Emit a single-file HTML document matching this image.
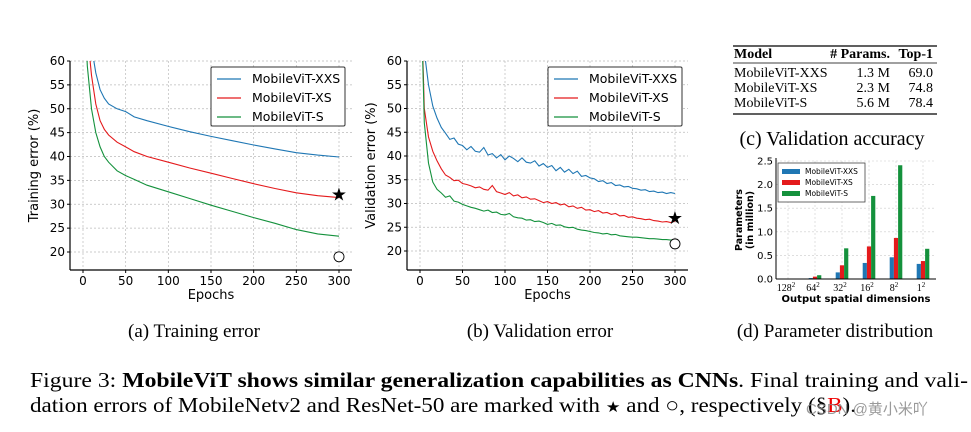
<!DOCTYPE html>
<html><head><meta charset="utf-8"><style>
html,body{margin:0;padding:0;background:#fff;}
svg{display:block;}
.sans{font-family:"DejaVu Sans","Liberation Sans",sans-serif;}
.serif{font-family:"Liberation Serif",serif;}
</style></head><body>
<svg id="fig" width="971" height="432" viewBox="0 0 971 432" xmlns="http://www.w3.org/2000/svg">
<g id="pa"></g>
<g id="pb"></g>
<g id="pd"></g>
<g class="serif" font-size="14">
<line x1="733" y1="46" x2="937" y2="46" stroke="#000" stroke-width="1.2"/>
<text x="734" y="58" font-weight="bold">Model</text>
<text x="890" y="58" font-weight="bold" text-anchor="end"># Params.</text>
<text x="933" y="58" font-weight="bold" text-anchor="end">Top-1</text>
<line x1="733" y1="63" x2="937" y2="63" stroke="#000" stroke-width="0.8"/>
<text x="734" y="77">MobileViT-XXS</text><text x="890" y="77" text-anchor="end">1.3 M</text><text x="933" y="77" text-anchor="end">69.0</text>
<text x="734" y="92">MobileViT-XS</text><text x="890" y="92" text-anchor="end">2.3 M</text><text x="933" y="92" text-anchor="end">74.8</text>
<text x="734" y="107">MobileViT-S</text><text x="890" y="107" text-anchor="end">5.6 M</text><text x="933" y="107" text-anchor="end">78.4</text>
<line x1="733" y1="114" x2="937" y2="114" stroke="#000" stroke-width="1.2"/>
<text x="832" y="145" font-size="20" text-anchor="middle">(c) Validation accuracy</text>
</g>
<g class="serif" font-size="19" text-anchor="middle">
<text x="194" y="337">(a) Training error</text>
<text x="540" y="337">(b) Validation error</text>
<text x="835" y="337">(d) Parameter distribution</text>
</g>
<g class="serif" font-size="21">
<text x="30" y="387" textLength="938" lengthAdjust="spacingAndGlyphs">Figure 3: <tspan font-weight="bold">MobileViT shows similar generalization capabilities as CNNs</tspan>. Final training and vali-</text>
<text x="30" y="412" textLength="826" lengthAdjust="spacingAndGlyphs">dation errors of MobileNetv2 and ResNet-50 are marked with <tspan font-size="15">★</tspan> and ○, respectively (§<tspan fill="#e00">B</tspan>).</text>
</g>
<text x="806" y="414" font-size="15" fill="#888" fill-opacity="0.85" font-family="'Liberation Sans','Noto Sans CJK SC',sans-serif">CSDN @黄小米吖</text>
</svg>
<script>
// ---- training error data ----
const trainEpochs = [1,5,10,15,20,25,30,40,50,60,75,100,125,150,175,200,225,250,275,300];
const trainXXS = [75,70,63,57.5,54,52.2,51,50,49.4,48.3,47.5,46.3,45.2,44.2,43.3,42.4,41.6,40.8,40.3,39.9];
const trainXS  = [75,66,57,51,47.5,45.7,44.5,43,42,41,40,38.8,37.6,36.5,35.4,34.3,33.3,32.4,31.8,31.4];
const trainS   = [75,59,50,45,42,40,38.8,37,36,35.2,34,32.6,31.2,29.8,28.5,27.2,26,24.7,23.8,23.3];
const trainStar = [300,32];
const trainCircle = [300,19];
// ---- validation error data ----
const valEpochs = [1,5,10,15,20,25,30,35,40,45,50,55,60,65,70,75,80,85,90,95,100,105,110,115,120,125,130,135,140,145,150,155,160,165,170,175,180,185,190,195,200,205,210,215,220,225,230,235,240,245,250,255,260,265,270,275,280,285,290,295,300];
const valXXS = [80,62,55,50.5,48,46,44.8,43.5,43.8,42.5,42.2,41.3,42,41,40.8,41.8,40.2,40.5,39.6,40.3,39.2,40,39.5,38.8,39.6,38.7,38.5,39,37.9,38.4,37.6,38,36.9,37.6,36.6,37.2,36.3,36.8,35.7,35.9,35.4,35.2,34.6,34.8,34.2,34.4,33.8,33.9,33.5,33.6,33.2,33.1,32.8,32.9,32.5,32.6,32.3,32.4,32.1,32.3,32.1];
const valXS = [75,50,44,41,39,37.3,36,35.5,34.8,34.9,34.2,34,33.7,33.3,33.5,33,32.8,33.8,32.5,32.2,31.9,32.3,31.6,31.8,31.2,31.4,30.9,31,30.6,30.2,30.4,30,30.2,29.7,29.9,29.3,29.5,29,29.2,28.6,28.7,28.3,28.5,28,28.1,27.7,27.9,27.4,27.5,27.1,27.2,26.9,26.8,26.6,26.7,26.4,26.3,26.1,26.2,26,26.3];
const valS = [75,47,38.5,34.5,33,32.2,31.3,31.6,30.5,30.3,29.8,29.5,29.2,29,28.7,28.4,28.6,28.1,28.2,27.7,27.6,27.9,27.2,27,26.9,26.5,26.6,26.2,26.3,26,25.6,25.8,25.4,25.5,25.1,24.9,25,24.6,24.4,24.3,24.1,23.9,23.8,23.6,23.7,23.4,23.5,23.2,23.1,23,22.9,22.9,22.8,22.7,22.6,22.6,22.5,22.4,22.4,22.3,22.4];
const valStar = [300,27];
const valCircle = [300,21.5];
// ---- common ticks ----
const xTicks = [0,50,100,150,200,250,300];
const yTicks = [20,25,30,35,40,45,50,55,60];
const seriesNames = ["MobileViT-XXS","MobileViT-XS","MobileViT-S"];
const colors = ["#1f77b4","#e41a1c","#14913c"];
// ---- parameter distribution data ----
const barCats = ["128","64","32","16","8","1"];
const barXXS = [0,0.02,0.14,0.34,0.46,0.32];
const barXS  = [0,0.05,0.29,0.69,0.87,0.38];
const barS   = [0,0.08,0.65,1.76,2.41,0.64];
const barTicks = [0.0,0.5,1.0,1.5,2.0,2.5];

const NS="http://www.w3.org/2000/svg";
function mk(parent,tag,attrs,text){const e=document.createElementNS(NS,tag);for(const k in attrs)e.setAttribute(k,attrs[k]);if(text!==undefined)e.textContent=text;parent.appendChild(e);return e;}

function lineChart(g,opt){
  const sx=v=>opt.x0+(v-0)*(opt.x300-opt.x0)/300;
  const sy=v=>opt.y20+(v-20)*(opt.y60-opt.y20)/40;
  const cid='clip'+opt.id;
  const cp=mk(g,'clipPath',{id:cid});mk(cp,'rect',{x:opt.left,y:opt.y60,width:opt.right-opt.left,height:opt.bottom-opt.y60});
  xTicks.forEach(t=>{
    mk(g,'line',{x1:sx(t),x2:sx(t),y1:opt.y60,y2:opt.bottom,stroke:'#bbb','stroke-width':0.7,'stroke-dasharray':'2,2'});
    mk(g,'line',{x1:sx(t),x2:sx(t),y1:opt.bottom,y2:opt.bottom+3,stroke:'#000'});
    const l=mk(g,'text',{x:sx(t),y:opt.bottom+15,'font-size':12,'text-anchor':'middle',class:'sans'},String(t));
    
    
  });
  yTicks.forEach(t=>{
    mk(g,'line',{x1:opt.left,x2:opt.right,y1:sy(t),y2:sy(t),stroke:'#bbb','stroke-width':0.7,'stroke-dasharray':'2,2'});
    mk(g,'line',{x1:opt.left-3,x2:opt.left,y1:sy(t),y2:sy(t),stroke:'#000'});
    const l=mk(g,'text',{x:opt.left-5,y:sy(t)+4,'font-size':12,'text-anchor':'end',class:'sans'},String(t));
    
    
  });
  mk(g,'line',{x1:opt.left,x2:opt.left,y1:opt.y60,y2:opt.bottom,stroke:'#000','stroke-width':1.2});
  mk(g,'line',{x1:opt.left,x2:opt.right,y1:opt.bottom,y2:opt.bottom,stroke:'#000','stroke-width':1.2});
  const xt=mk(g,'text',{x:(opt.x0+opt.x300)/2,y:opt.bottom+29,'font-size':13,'text-anchor':'middle',class:'sans'},'Epochs');
  
  
  const cy=(opt.y60+opt.bottom)/2, cx=opt.left-32;
  const yt=mk(g,'text',{x:cx,y:cy,'font-size':13,'text-anchor':'middle',class:'sans',transform:`rotate(-90 ${cx} ${cy})`},opt.ylabel);
  
  
  opt.series.forEach((s,i)=>{
    const d=opt.epochs.map((e,j)=>(j?'L':'M')+sx(e).toFixed(1)+','+sy(s[j]).toFixed(1)).join('');
    const p=mk(g,'path',{d:d,fill:'none',stroke:colors[i],'stroke-width':1.1,'clip-path':`url(#${cid})`});
    
    
  });
  const st=mk(g,'text',{x:sx(opt.star[0]),y:sy(opt.star[1])+6,'font-size':18,'text-anchor':'middle',fill:'#000',class:'sans'},'★');
  
  
  const ci=mk(g,'circle',{cx:sx(opt.circle[0]),cy:sy(opt.circle[1]),r:5,fill:'#fff',stroke:'#000','stroke-width':0.9});
  
  
  const lg=mk(g,'g',{});
  
  
  mk(lg,'rect',{x:opt.lx,y:67,width:134,height:59,fill:'#fff',stroke:'#333','stroke-width':1,rx:1.5});
  seriesNames.forEach((n,i)=>{
    const y=83+i*19;
    mk(lg,'line',{x1:opt.lx+6,x2:opt.lx+30,y1:y-4,y2:y-4,stroke:colors[i],'stroke-width':1.3});
    const t=mk(lg,'text',{x:opt.lx+41,y:y,'font-size':12.5,class:'sans'},n);
    
    
  });
}

lineChart(document.getElementById('pa'),{id:'a',x0:83,x300:339,left:70,right:352,y60:61,y20:252,bottom:270,ylabel:'Training error (%)',epochs:trainEpochs,series:[trainXXS,trainXS,trainS],star:trainStar,circle:trainCircle,lx:211});
lineChart(document.getElementById('pb'),{id:'b',x0:420,x300:675,left:407,right:688,y60:61,y20:251,bottom:270,ylabel:'Validation error (%)',epochs:valEpochs,series:[valXXS,valXS,valS],star:valStar,circle:valCircle,lx:548});

(function(){
  const g=document.getElementById('pd');
  const left=776,right=936,y0=279,y25=161;
  const sy=v=>y0+(y25-y0)*v/2.5;
  const cx=i=>788+i*27;
  const bw=4.2;
  barCats.forEach((c,i)=>{mk(g,'line',{x1:cx(i),x2:cx(i),y1:y25,y2:y0,stroke:'#ccc','stroke-width':0.6,'stroke-dasharray':'2,2'});});
  barTicks.forEach(t=>{
    mk(g,'line',{x1:left,x2:right,y1:sy(t),y2:sy(t),stroke:'#ccc','stroke-width':0.6,'stroke-dasharray':'2,2'});
    const l=mk(g,'text',{x:left-3,y:sy(t)+3.5,'font-size':10,'text-anchor':'end',class:'sans'},t.toFixed(1));
    
    
  });
  [barXXS,barXS,barS].forEach((s,k)=>{
    s.forEach((v,i)=>{
      const r=mk(g,'rect',{x:cx(i)+(k-1.5)*bw,y:sy(v),width:bw,height:y0-sy(v),fill:colors[k]});
      
      
    });
  });
  mk(g,'line',{x1:left,x2:left,y1:y25-3,y2:y0,stroke:'#000'});
  mk(g,'line',{x1:left,x2:right,y1:y0,y2:y0,stroke:'#000'});
  barCats.forEach((c,i)=>{
    const t=mk(g,'text',{x:cx(i)-2,y:y0+12,'font-size':10,'text-anchor':'middle',class:'serif'},c);
    mk(t,'tspan',{dy:-4,'font-size':7},'2');
    
    
  });
  const xt=mk(g,'text',{x:856,y:y0+23,'font-size':10,'font-weight':'bold','text-anchor':'middle',class:'sans'},'Output spatial dimensions');
  
  
  const yt=mk(g,'text',{x:742,y:220,'font-size':9.5,'font-weight':'bold','text-anchor':'middle',class:'sans',transform:'rotate(-90 742 220)'});
  mk(yt,'tspan',{x:742,dy:0},'Parameters');
  mk(yt,'tspan',{x:742,dy:11},'(in million)');
  
  
  const lg=mk(g,'g',{});
  
  
  mk(lg,'rect',{x:778,y:163,width:87,height:39,fill:'#fff',stroke:'#444','stroke-width':0.8});
  seriesNames.forEach((n,i)=>{
    const y=172+i*11;
    mk(lg,'rect',{x:782,y:y-3,width:18,height:5,fill:colors[i]});
    const t=mk(lg,'text',{x:805,y:y+2,'font-size':7.5,class:'sans'},n);
    
    
  });
})();
</script>
</body></html>
